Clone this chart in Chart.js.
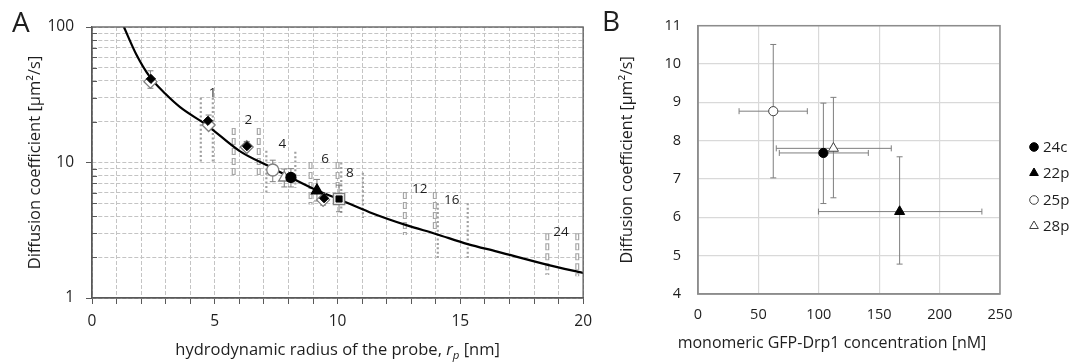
<!DOCTYPE html>
<html><head><meta charset="utf-8">
<script src="https://cdn.jsdelivr.net/npm/chart.js@4.4.1/dist/chart.umd.min.js"></script>
<style>
html,body{margin:0;padding:0;background:#fff;}
#wrap{position:relative;width:1084px;height:364px;overflow:hidden;}
#ca{position:absolute;left:0;top:0;}
#cb{position:absolute;left:600px;top:0;}
</style></head><body>
<div id="wrap">
<canvas id="ca" width="600" height="364"></canvas>
<canvas id="cb" width="484" height="364"></canvas>
</div>
<script>
// ================= DATA =================
// Panel A: fitted curve
const curveR = [1.3, 1.8, 2.35, 3.0, 3.6, 4.67, 6.0, 7.3, 9.1, 10.0, 11.3, 12.8, 14.0, 15.3, 16.5, 18.6, 20.0];
const curveD = [100, 63, 43, 32, 25.5, 18.9, 12.2, 9.2, 6.3, 5.4, 4.3, 3.45, 2.97, 2.5, 2.2, 1.75, 1.53];

// Panel A: dotted columns (r, top D, bottom D)
const dotR   = [4.43, 4.92, 7.1, 8.28, 10.15, 11.03, 14.08, 15.3];
const dotTop = [30, 30, 12.2, 12.0, 10.0, 8.4, 5.0, 5.0];
const dotBot = [9.9, 10.0, 6.0, 6.5, 4.2, 3.9, 1.97, 1.97];

// Panel A: hollow-box columns (r, top D, bottom D)
const boxR   = [5.77, 6.79, 8.9, 10.0, 12.74, 13.96, 18.54, 19.76];
const boxTop = [18, 18, 10.1, 10.1, 6.05, 6.05, 3.0, 3.0];
const boxBot = [8.0, 8.0, 4.9, 6.5, 2.92, 3.07, 1.48, 1.45];

// Panel A: column labels
const colLabels = ['1', '2', '4', '6', '8', '12', '16', '24'];
const colLabR   = [4.91, 6.37, 7.75, 9.49, 10.5, 13.35, 14.65, 19.1];
const colLabD   = [32.6, 20.6, 13.7, 10.6, 8.37, 6.37, 5.29, 3.07];

// Panel A: probes (open diamonds with error bars, black diamonds)
const openDiaR  = [2.38, 4.75, 6.3, 9.41];
const openDiaD  = [39.5, 18.9, 13.0, 5.3];
const openDiaLo = [35.3, 17.9, 12.3, 4.85];
const openDiaHi = [47.5, 22.4, 14.3, 5.9];
const blackDiaR = [2.4, 4.72, 6.31, 9.45];
const blackDiaD = [41.4, 20.3, 13.2, 5.45];

// Panel A: square marker
const sqR = [10.06], sqD = [5.38], sqLo = [4.33], sqHi = [6.8];

// Drp1 variants (shared)
const drpNames = ['24c', '22p', '25p', '28p'];
// Panel A positions
const drpRA  = [8.1, 9.16, 7.36, 7.83];
const drpDA  = [7.76, 6.2, 8.8, 7.72];
const drpLoA = [6.6, 5.2, 7.22, 6.6];
const drpHiA = [9.0, 7.5, 10.4, 8.95];
// Panel B positions
const concB   = [103.8, 166.9, 62.3, 112.1];
const concLoB = [67.3, 99.7, 34.0, 64.8];
const concHiB = [141.0, 235.0, 90.5, 160.0];
const dB      = [7.68, 6.15, 8.77, 7.8];
const dLoB    = [6.36, 4.78, 7.03, 6.51];
const dHiB    = [8.98, 7.58, 10.51, 9.13];

// Tick values
const xTicksA = [0,1,2,3,4,5,6,7,8,9,10,11,12,13,14,15,16,17,18,19,20];
const yTicksA = [1,2,3,4,5,6,7,8,9,10,20,30,40,50,60,70,80,90,100];
const yMajorA = [1, 10, 100];

// ================= STYLE =================
const FONT = '"Open Sans", Lato, "DejaVu Sans", sans-serif';
const TXT = '#1e1e1e';
const AX_A = '#595959';
const GRID_A = '#c4c4c4';
const ERR = '#7f7f7f';
const COL = '#a0a0a0';

const drpStyles = [
  {pointStyle: 'circle',   bg: '#000', bc: '#000', rA: 5,   rB: 4.6},
  {pointStyle: 'triangle', bg: '#000', bc: '#000', rA: 6.5, rB: 5.8},
  {pointStyle: 'circle',   bg: '#fff', bc: '#7f7f7f', rA: 6, rB: 4.6},
  {pointStyle: 'triangle', bg: '#fff', bc: '#7f7f7f', rA: 6.5, rB: 5.8}
];

function errV(x, lo, hi, cap, order) {
  return {type: 'line', showLine: true, data: [{x: x, y: lo}, {x: x, y: hi}],
    borderColor: ERR, borderWidth: 1, pointStyle: 'line', pointRadius: cap,
    pointBorderColor: ERR, pointBorderWidth: 1, pointHoverRadius: cap, order: order};
}
function errH(y, lo, hi, cap, order) {
  return {type: 'line', showLine: true, data: [{x: lo, y: y}, {x: hi, y: y}],
    borderColor: ERR, borderWidth: 1, pointStyle: 'line', pointRotation: 90, pointRadius: cap,
    pointBorderColor: ERR, pointBorderWidth: 1, pointHoverRadius: cap, order: order};
}

// ================= PANEL A =================
const dsA = [];
dotR.forEach((r, i) => dsA.push({type: 'line', showLine: true,
  data: [{x: r, y: dotTop[i]}, {x: r, y: dotBot[i]}],
  borderColor: COL, borderWidth: 2.2, borderDash: [2, 2.4], pointRadius: 0, order: 20}));
boxR.forEach((r, i) => {
  dsA.push({type: 'line', showLine: true,
    data: [{x: r, y: boxTop[i]}, {x: r, y: boxBot[i]}],
    borderColor: '#a6a6a6', borderWidth: 4, borderDash: [7, 3], pointRadius: 0, order: 19});
  dsA.push({type: 'line', showLine: true,
    data: [{x: r, y: boxTop[i]}, {x: r, y: boxBot[i]}],
    borderColor: '#ffffff', borderWidth: 1.6, borderDash: [5, 5], borderDashOffset: -1, pointRadius: 0, order: 18});
});
dsA.push({type: 'line', showLine: true, data: curveR.map((r, i) => ({x: r, y: curveD[i]})),
  borderColor: '#000', borderWidth: 2.2, pointRadius: 0, cubicInterpolationMode: 'monotone', order: 10});
openDiaR.forEach((r, i) => dsA.push(errV(r, openDiaLo[i], openDiaHi[i], 3, 8)));
sqR.forEach((r, i) => dsA.push(errV(r, sqLo[i], sqHi[i], 3, 8)));
drpRA.forEach((r, i) => dsA.push(errV(r, drpLoA[i], drpHiA[i], 3, 8)));
dsA.push({type: 'scatter', data: openDiaR.map((r, i) => ({x: r, y: openDiaD[i]})),
  pointStyle: 'rectRot', pointRadius: 6.5, backgroundColor: '#fff', borderColor: '#808080', borderWidth: 1.3, order: 6});
dsA.push({type: 'scatter', data: sqR.map((r, i) => ({x: r, y: sqD[i]})),
  pointStyle: 'rect', pointRadius: 8, backgroundColor: '#e6e6e6', borderColor: '#7f7f7f', borderWidth: 1.3, order: 6});
dsA.push({type: 'scatter', data: sqR.map((r, i) => ({x: r, y: sqD[i]})),
  pointStyle: 'rect', pointRadius: 4.3, backgroundColor: '#000', borderColor: '#000', borderWidth: 1, order: 5});
dsA.push({type: 'scatter', data: blackDiaR.map((r, i) => ({x: r, y: blackDiaD[i]})),
  pointStyle: 'rectRot', pointRadius: 4.6, backgroundColor: '#000', borderColor: '#000', borderWidth: 1, order: 4});
[2, 3, 0, 1].forEach((k, j) => dsA.push({type: 'scatter', label: drpNames[k],
  data: [{x: drpRA[k], y: drpDA[k]}], pointStyle: drpStyles[k].pointStyle, pointRadius: drpStyles[k].rA,
  backgroundColor: drpStyles[k].bg, borderColor: drpStyles[k].bc, borderWidth: 1.3, order: 3 - j * 0.1}));

const pluginA = {
  id: 'decorA',
  afterDatasetsDraw(chart) {
    const {ctx, chartArea: a, scales: {x, y}} = chart;
    ctx.save();
    ctx.strokeStyle = AX_A; ctx.lineWidth = 1.3;
    ctx.strokeRect(a.left, a.top, a.right - a.left, a.bottom - a.top);
    ctx.lineWidth = 1;
    yTicksA.forEach(v => {
      if (yMajorA.includes(v)) return;
      const py = Math.round(y.getPixelForValue(v)) + 0.5;
      ctx.beginPath(); ctx.moveTo(a.left, py); ctx.lineTo(a.left + 5, py); ctx.stroke();
    });
    ctx.fillStyle = TXT; ctx.font = '13.5px ' + FONT; ctx.textAlign = 'center'; ctx.textBaseline = 'middle';
    colLabels.forEach((t, i) => ctx.fillText(t, x.getPixelForValue(colLabR[i]), y.getPixelForValue(colLabD[i])));
    ctx.restore();
  },
  afterDraw(chart) {
    const {ctx, chartArea: a} = chart;
    ctx.save();
    ctx.fillStyle = TXT; ctx.textBaseline = 'alphabetic'; ctx.textAlign = 'left';
    ctx.font = '28px ' + FONT;
    ctx.fillText('A', 12, 32);
    const fN = '16.5px ' + FONT, fI = 'italic 16.5px ' + FONT, fS = 'italic 11.5px ' + FONT;
    const parts = [['hydrodynamic radius of the probe, ', fN, 0], ['r', fI, 0], ['p', fS, 4], [' [nm]', fN, 0]];
    let w = 0;
    parts.forEach(p => { ctx.font = p[1]; w += ctx.measureText(p[0]).width; });
    let cx = (a.left + a.right) / 2 - w / 2;
    const base = 355;
    parts.forEach(p => { ctx.font = p[1]; ctx.fillText(p[0], cx, base + p[2]); cx += ctx.measureText(p[0]).width; });
    ctx.restore();
  }
};

new Chart(document.getElementById('ca'), {
  type: 'scatter',
  data: {datasets: dsA},
  options: {
    responsive: false, animation: false, events: [],
    layout: {padding: {top: 27, right: 15, left: 0, bottom: 0}},
    plugins: {legend: {display: false}, tooltip: {enabled: false}},
    scales: {
      x: {
        type: 'linear', min: 0, max: 20,
        afterBuildTicks: s => { s.ticks = xTicksA.map(v => ({value: v})); },
        afterFit: s => { s.height = 66; },
        ticks: {autoSkip: false, maxRotation: 0, padding: 8, color: TXT, font: {family: FONT, size: 15.5},
          callback: v => (v % 5 === 0 ? String(v) : '')},
        grid: {color: GRID_A, lineWidth: 1, tickLength: 6, tickColor: AX_A, tickWidth: 1},
        border: {color: AX_A, width: 1.3, dash: [4, 2]}
      },
      y: {
        type: 'logarithmic', min: 1, max: 100,
        afterBuildTicks: s => { s.ticks = yTicksA.map(v => ({value: v})); },
        afterFit: s => { s.width = 92; },
        ticks: {autoSkip: false, padding: 12, color: TXT, font: {family: FONT, size: 15.5},
          callback: v => (yMajorA.includes(v) ? String(v) : '')},
        grid: {color: GRID_A, lineWidth: 1, tickLength: 6, tickWidth: 1,
          tickColor: c => (c.tick && yMajorA.includes(c.tick.value) ? AX_A : 'rgba(0,0,0,0)')},
        border: {color: AX_A, width: 1.3, dash: [4, 2]},
        title: {display: true, text: 'Diffusion coefficient [µm²/s]', color: TXT,
          font: {family: FONT, size: 16.5}, padding: {top: 25, bottom: 0}}
      }
    }
  },
  plugins: [pluginA]
});

// ================= PANEL B =================
const dsB = [];
drpNames.forEach((n, k) => {
  dsB.push(errV(concB[k], dLoB[k], dHiB[k], 3, 8));
  dsB.push(errH(dB[k], concLoB[k], concHiB[k], 3, 8));
});
[2, 3, 0, 1].forEach((k, j) => dsB.push({type: 'scatter', label: drpNames[k],
  data: [{x: concB[k], y: dB[k]}], pointStyle: drpStyles[k].pointStyle, pointRadius: drpStyles[k].rB,
  backgroundColor: drpStyles[k].bg, borderColor: drpStyles[k].bg === '#000' ? '#000' : '#404040',
  borderWidth: 1, order: 3 - j * 0.1}));

const pluginB = {
  id: 'decorB',
  afterDatasetsDraw(chart) {
    const {ctx, chartArea: a} = chart;
    ctx.save();
    ctx.strokeStyle = '#8c8c8c'; ctx.lineWidth = 1.5;
    ctx.strokeRect(a.left, a.top, a.right - a.left, a.bottom - a.top);
    ctx.restore();
  },
  afterDraw(chart) {
    const {ctx} = chart;
    ctx.save();
    ctx.fillStyle = TXT; ctx.textAlign = 'left'; ctx.textBaseline = 'alphabetic';
    ctx.font = '28px ' + FONT;
    ctx.fillText('B', 2, 31);
    ctx.font = '16px ' + FONT; ctx.textAlign = 'center'; ctx.textBaseline = 'middle';
    ctx.fillText('monomeric GFP-Drp1 concentration [nM]', 232, 343);
    ctx.textAlign = 'left'; ctx.font = '15px ' + FONT;
    const ly = [147, 173, 200, 226];
    drpNames.forEach((n, k) => {
      const st = drpStyles[k];
      ctx.fillStyle = st.bg; ctx.strokeStyle = st.bg === '#000' ? '#000' : '#404040';
      ctx.lineWidth = 1;
      Chart.helpers.drawPoint(ctx, {pointStyle: st.pointStyle, radius: st.pointStyle === 'circle' ? 4.3 : 5, rotation: 0, borderWidth: 1}, 434, ly[k]);
      ctx.fillStyle = TXT;
      ctx.fillText(n, 443, ly[k] + 1);
    });
    ctx.restore();
  }
};

new Chart(document.getElementById('cb'), {
  type: 'scatter',
  data: {datasets: dsB},
  options: {
    responsive: false, animation: false, events: [],
    layout: {padding: {top: 24, right: 84, left: 0, bottom: 0}},
    plugins: {legend: {display: false}, tooltip: {enabled: false}},
    scales: {
      x: {
        type: 'linear', min: 0, max: 250,
        afterFit: s => { s.height = 70; },
        ticks: {stepSize: 50, maxRotation: 0, padding: 12, color: TXT, font: {family: FONT, size: 14.5}},
        grid: {color: '#d9d9d9', lineWidth: 1.2, drawTicks: false},
        border: {color: '#8c8c8c', width: 1.5}
      },
      y: {
        type: 'linear', min: 4, max: 11,
        afterFit: s => { s.width = 98; },
        ticks: {stepSize: 1, padding: 17, color: TXT, font: {family: FONT, size: 14.5}},
        grid: {color: '#d9d9d9', lineWidth: 1.2, drawTicks: false},
        border: {color: '#8c8c8c', width: 1.5},
        title: {display: true, text: 'Diffusion coefficient [µm²/s]', color: TXT,
          font: {family: FONT, size: 16}, padding: {top: 18, bottom: 0}}
      }
    }
  },
  plugins: [pluginB]
});
</script>
</body></html>
